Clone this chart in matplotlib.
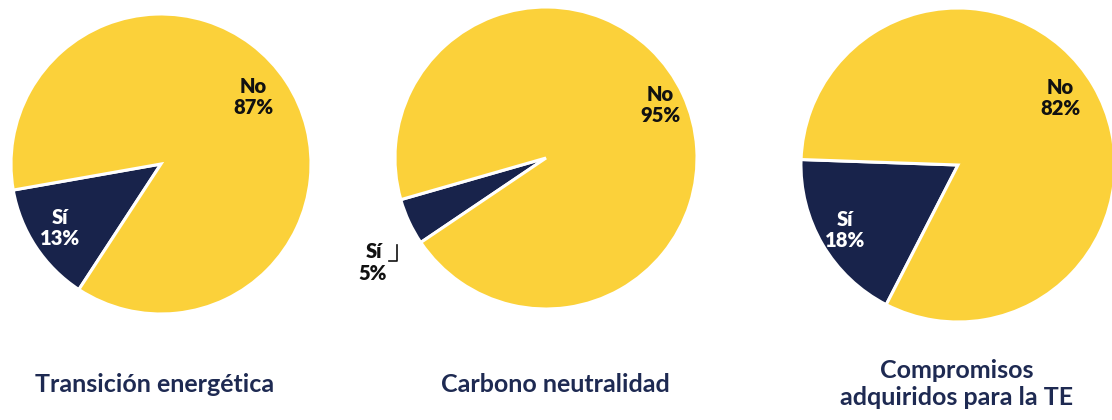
import matplotlib
matplotlib.use("Agg")
import matplotlib.pyplot as plt

# Data
titles = ["Transición energética", "Carbono neutralidad", "Compromisos\nadquiridos para la TE"]
categories = ["Sí", "No"]
si_values = [13, 5, 18]
no_values = [87, 95, 82]

YELLOW = "#FBD13A"
NAVY = "#18234B"
TITLE_C = "#1E2A52"

# Layout (pixel-space positions, y up)
centers = [(161, 256), (546, 262), (958, 255)]
radii = [150, 151, 157]
startangles = [190, 196, 178]
explodes = [0.05, 0.07, 0.035]
no_label_pos = [(253, 323), (660, 315), (1060, 322)]
si_label_pos = [(60, 192), None, (845, 190)]
title_pos = [(155, 36), (555, 36), (957, 36)]

fig = plt.figure(figsize=(11.12, 4.2), dpi=100)
ax = fig.add_axes([0, 0, 1, 1])

lab_font = dict(family=["Lato", "DejaVu Sans"], fontweight="heavy", fontsize=14.5,
                ha="center", va="center", linespacing=1.1)

for i in range(3):
    vals = [si_values[i], no_values[i]]
    ax.pie(vals, colors=[NAVY, YELLOW], startangle=startangles[i], counterclock=True,
           explode=[explodes[i], 0], center=centers[i], radius=radii[i],
           wedgeprops=dict(edgecolor="white", linewidth=2.2), frame=True)
    ax.text(*no_label_pos[i], f"{categories[1]}\n{no_values[i]}%", color="#111111", **lab_font)
    if si_label_pos[i] is not None:
        ax.text(*si_label_pos[i], f"{categories[0]}\n{si_values[i]}%", color="white", **lab_font)
    ax.text(*title_pos[i], titles[i], color=TITLE_C, family=["Lato", "DejaVu Sans"],
            fontweight="bold", fontsize=18, ha="center", va="center", linespacing=1.25)

# Small-slice label for the 5% pie
ax.text(374, 168, f"{categories[0]}", color="#111111", **lab_font)
ax.text(373, 147, f"{si_values[1]}%", color="#111111", **lab_font)
ax.plot([397, 397, 389], [175, 159, 159], color="#111111", lw=1.2)

ax.set_xlim(0, 1112)
ax.set_ylim(0, 420)
ax.set_aspect("equal")
ax.axis("off")
fig.savefig("out.png", dpi=100, facecolor="white")
